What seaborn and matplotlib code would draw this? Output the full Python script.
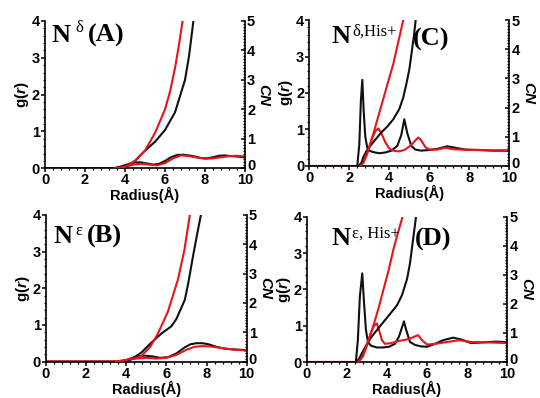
import matplotlib
matplotlib.use("Agg")
import matplotlib.pyplot as plt
import seaborn as sns
from matplotlib.ticker import MultipleLocator
from matplotlib.transforms import ScaledTranslation

sns.set_theme(style="ticks")
plt.rcParams['font.family'] = ['Liberation Sans', 'DejaVu Sans']
plt.rcParams['font.weight'] = 'bold'
plt.rcParams['mathtext.fontset'] = 'custom'
plt.rcParams['mathtext.rm'] = 'Liberation Sans:bold'
plt.rcParams['mathtext.it'] = 'Liberation Sans:italic:bold'

# ---------------- Panel A : N-delta ----------------
a_gk_r = [0, 3.4, 3.8, 4.2, 4.5, 4.8, 5.1, 5.4, 5.7, 6.0, 6.3, 6.6, 6.9, 7.2, 7.5, 7.8, 8.1, 8.4, 8.7, 9.0, 9.3, 9.6, 10]
a_gk = [0, 0, 0.05, 0.12, 0.16, 0.16, 0.13, 0.10, 0.12, 0.20, 0.30, 0.36, 0.37, 0.35, 0.32, 0.28, 0.27, 0.30, 0.34, 0.35, 0.33, 0.32, 0.30]
a_gr_r = [0, 3.6, 4.0, 4.4, 4.8, 5.2, 5.6, 6.0, 6.4, 6.8, 7.2, 7.6, 8.0, 8.4, 8.8, 9.2, 9.6, 10]
a_gr = [0, 0, 0.04, 0.10, 0.12, 0.10, 0.08, 0.14, 0.27, 0.35, 0.33, 0.29, 0.26, 0.27, 0.30, 0.33, 0.34, 0.32]
a_nk_r = [3.5, 4.0, 4.5, 5.0, 5.5, 6.0, 6.5, 7.0, 7.2, 7.42, 7.55]
a_nk = [0, 0.05, 0.25, 0.60, 0.90, 1.30, 1.90, 3.00, 3.80, 5.0, 5.8]
a_nr_r = [3.5, 4.0, 4.5, 5.0, 5.5, 6.0, 6.25, 6.5, 6.7, 6.88, 7.0]
a_nr = [0, 0.05, 0.25, 0.60, 1.20, 2.00, 2.60, 3.40, 4.20, 5.0, 5.6]

# ---------------- Panel B : N-epsilon ----------------
b_gk_r = [0, 3.8, 4.1, 4.5, 4.9, 5.3, 5.7, 6.1, 6.5, 6.9, 7.2, 7.5, 7.8, 8.1, 8.5, 8.9, 9.3, 9.7, 10]
b_gk = [0, 0, 0.06, 0.13, 0.16, 0.14, 0.10, 0.12, 0.22, 0.38, 0.47, 0.50, 0.50, 0.47, 0.40, 0.35, 0.33, 0.32, 0.30]
b_gr_r = [0, 3.5, 4.0, 4.5, 5.0, 5.5, 6.0, 6.5, 7.0, 7.4, 7.8, 8.2, 8.6, 9.0, 9.5, 10]
b_gr = [0, 0, 0.04, 0.08, 0.10, 0.08, 0.10, 0.18, 0.32, 0.40, 0.42, 0.41, 0.38, 0.35, 0.32, 0.30]
b_nk_r = [3.8, 4.2, 4.75, 5.25, 5.75, 6.25, 6.5, 6.92, 7.1, 7.33, 7.55, 7.72, 7.8]
b_nk = [0, 0.05, 0.30, 0.64, 0.95, 1.20, 1.45, 2.10, 2.70, 3.60, 4.40, 5.0, 5.4]
b_nr_r = [3.5, 4.0, 4.5, 4.75, 5.2, 5.58, 6.08, 6.58, 6.9, 7.17, 7.25]
b_nr = [0, 0.05, 0.12, 0.18, 0.50, 0.95, 1.70, 2.80, 3.80, 5.0, 5.4]

# ---------------- Panel C : N-delta, His+ ----------------
c_gk_r = [0, 2.4, 2.5, 2.58, 2.65, 2.72, 2.8, 2.9, 3.0, 3.2, 3.5, 3.8, 4.1, 4.4, 4.6, 4.75, 4.9, 5.1, 5.3, 5.6, 6.0, 6.4, 6.9, 7.3, 7.8, 8.5, 9.2, 10]
c_gk = [0, 0, 0.6, 1.8, 2.36, 1.5, 0.8, 0.5, 0.42, 0.38, 0.35, 0.37, 0.42, 0.55, 0.85, 1.28, 0.9, 0.55, 0.45, 0.42, 0.44, 0.47, 0.54, 0.50, 0.45, 0.44, 0.42, 0.42]
c_gr_r = [0, 2.5, 2.7, 2.9, 3.1, 3.3, 3.45, 3.6, 3.8, 4.0, 4.2, 4.5, 4.8, 5.1, 5.3, 5.45, 5.6, 5.8, 6.0, 6.4, 6.8, 7.2, 8, 9, 10]
c_gr = [0, 0, 0.1, 0.35, 0.7, 0.95, 1.03, 0.9, 0.65, 0.48, 0.42, 0.40, 0.45, 0.58, 0.70, 0.78, 0.70, 0.52, 0.45, 0.45, 0.50, 0.46, 0.44, 0.43, 0.43]
c_nk_r = [2.45, 2.6, 2.7, 2.85, 3.0, 3.3, 3.6, 3.9, 4.2, 4.5, 4.7, 4.85, 5.0, 5.12, 5.22, 5.32, 5.45]
c_nk = [0, 0.1, 0.3, 0.5, 0.65, 0.9, 1.15, 1.35, 1.6, 1.95, 2.35, 2.8, 3.3, 3.9, 4.4, 5.0, 5.6]
c_nr_r = [2.55, 2.7, 2.85, 3.0, 3.2, 3.45, 3.7, 3.95, 4.2, 4.45, 4.7, 4.85]
c_nr = [0, 0.1, 0.35, 0.65, 1.1, 1.7, 2.3, 2.9, 3.5, 4.25, 5.0, 5.5]

# ---------------- Panel D : N-epsilon, His+ ----------------
d_gk_r = [0, 2.45, 2.55, 2.65, 2.77, 2.85, 2.95, 3.05, 3.2, 3.5, 3.8, 4.1, 4.4, 4.6, 4.75, 4.85, 4.95, 5.15, 5.4, 5.7, 6.0, 6.4, 6.8, 7.3, 7.7, 8.2, 8.8, 9.4, 10]
d_gk = [0, 0, 0.6, 1.8, 2.44, 1.7, 0.9, 0.55, 0.45, 0.40, 0.40, 0.42, 0.50, 0.70, 0.95, 1.12, 0.90, 0.55, 0.47, 0.43, 0.42, 0.50, 0.60, 0.67, 0.62, 0.52, 0.54, 0.56, 0.55]
d_gr_r = [0, 2.55, 2.8, 3.0, 3.2, 3.35, 3.5, 3.62, 3.75, 3.9, 4.2, 4.6, 5.0, 5.3, 5.55, 5.75, 6.0, 6.4, 7.0, 7.6, 8.2, 9.0, 10]
d_gr = [0, 0, 0.15, 0.45, 0.8, 1.0, 1.06, 0.85, 0.6, 0.5, 0.52, 0.58, 0.62, 0.68, 0.74, 0.60, 0.48, 0.50, 0.55, 0.60, 0.55, 0.54, 0.52]
d_nk_r = [2.45, 2.6, 2.75, 2.95, 3.17, 3.5, 3.83, 4.15, 4.5, 4.75, 5.0, 5.15, 5.3, 5.45, 5.55]
d_nk = [0, 0.1, 0.3, 0.55, 0.81, 1.1, 1.38, 1.65, 1.95, 2.3, 2.85, 3.4, 4.2, 5.0, 5.5]
d_nr_r = [2.55, 2.7, 2.85, 3.0, 3.33, 3.6, 3.83, 4.1, 4.33, 4.55, 4.78, 4.9]
d_nr = [0, 0.1, 0.3, 0.6, 1.26, 1.9, 2.5, 3.2, 3.9, 4.45, 5.0, 5.4]

x_ticks = [0, 2, 4, 6, 8, 10]
g_ticks = [0, 1, 2, 3, 4]
cn_ticks = [0, 1, 2, 3, 4, 5]

BLACK = "#111111"
RED = "#e8141b"

W, H = 540, 398
fig = plt.figure(figsize=(W / 100, H / 100), dpi=100)
fig.patch.set_facecolor("white")


def px_rect(x0, x1, y_top, y_bot):
    return [x0 / W, 1 - y_bot / H, (x1 - x0) / W, (y_bot - y_top) / H]


def panel(rect, gk, gr, nk, nr):
    ax = fig.add_axes(rect)
    ax2 = ax.twinx()
    for a in (ax, ax2):
        a.set_facecolor("none")
    lw = 1.5
    sns.lineplot(x=gk[0], y=gk[1], ax=ax, color=BLACK, lw=lw, sort=False, estimator=None)
    sns.lineplot(x=gr[0], y=gr[1], ax=ax, color=RED, lw=lw, sort=False, estimator=None)
    sns.lineplot(x=nk[0], y=nk[1], ax=ax2, color=BLACK, lw=lw, sort=False, estimator=None)
    sns.lineplot(x=nr[0], y=nr[1], ax=ax2, color=RED, lw=lw, sort=False, estimator=None)

    ax.set_xlim(0, 10)
    ax.set_ylim(0, 4)
    ax2.set_ylim(0, 5)
    ax.set_xticks(x_ticks)
    ax.set_yticks(g_ticks)
    ax2.set_yticks(cn_ticks)
    ax.xaxis.set_minor_locator(MultipleLocator(0.4))
    ax.yaxis.set_minor_locator(MultipleLocator(0.2))
    ax2.yaxis.set_minor_locator(MultipleLocator(0.1))

    for a in (ax, ax2):
        for s in a.spines.values():
            s.set_linewidth(1.2)
            s.set_color("black")
        a.spines["top"].set_visible(False)
    ax.spines["right"].set_visible(False)
    ax2.spines["left"].set_visible(False)
    ax2.spines["bottom"].set_visible(False)

    ax.tick_params(axis="both", which="major", direction="out", length=2.8, width=1.1,
                   labelsize=10.5, pad=0.8, colors="black")
    ax.tick_params(axis="both", which="minor", direction="out", length=1.6, width=0.9, colors="black")
    ax2.tick_params(axis="y", which="major", direction="in", length=2.8, width=1.1,
                    labelsize=10.5, pad=1.5, colors="black")
    ax2.tick_params(axis="y", which="minor", direction="in", length=1.6, width=0.9, colors="black")

    ax.set_xlabel("Radius(Å)", fontsize=10.5, fontweight="bold", labelpad=0, color="black")
    ax.set_ylabel(r"g($\mathit{r}$)", fontsize=11, fontweight="bold", labelpad=0.5, color="black")
    ax2.set_ylabel("CN", fontsize=11, fontweight="bold", fontstyle="italic",
                   rotation=270, labelpad=11, color="black")
    return ax, ax2


right_axes = []
for rect, curves in [
    (px_rect(45, 245, 21, 168.3), ((a_gk_r, a_gk), (a_gr_r, a_gr), (a_nk_r, a_nk), (a_nr_r, a_nr))),
    (px_rect(45.7, 246.7, 215, 361.5), ((b_gk_r, b_gk), (b_gr_r, b_gr), (b_nk_r, b_nk), (b_nr_r, b_nr))),
    (px_rect(309.3, 509.3, 20, 166), ((c_gk_r, c_gk), (c_gr_r, c_gr), (c_nk_r, c_nk), (c_nr_r, c_nr))),
    (px_rect(306.7, 507.3, 216.7, 362), ((d_gk_r, d_gk), (d_gr_r, d_gr), (d_nk_r, d_nk), (d_nr_r, d_nr))),
]:
    _, ax2 = panel(rect, *curves)
    right_axes.append(ax2)

SERIF = ["Liberation Serif", "DejaVu Serif"]


def ptext(x, y, s, size, weight="bold"):
    fig.text(x / W, 1 - y / H, s, fontsize=size, fontweight=weight, family=SERIF,
             color="black", va="baseline", ha="left")


# panel titles
ptext(52, 41.5, "N", 19)
ptext(75, 32, "δ", 12, "normal")
ptext(88, 41.5, "(A)", 19)

ptext(53, 243, "N", 19)
ptext(75, 235, "ε", 12, "normal")
ptext(87, 243, "(B)", 19)

ptext(331, 43, "N", 19)
ptext(352, 36, "δ,His+", 12, "normal")
ptext(413, 46, "(C)", 19)

ptext(331, 245, "N", 19)
ptext(352, 238, "ε, His+", 12, "normal")
ptext(415, 246, "(D)", 19)

# lift the CN "0" label a little so it clears the "10" on the radius axis
fig.canvas.draw()
lift = ScaledTranslation(0, 0.035, fig.dpi_scale_trans)
for ax2 in right_axes:
    lab = ax2.yaxis.get_major_ticks()[0].label2
    lab.set_transform(lab.get_transform() + lift)

fig.savefig("out.png", dpi=100, facecolor="white")
